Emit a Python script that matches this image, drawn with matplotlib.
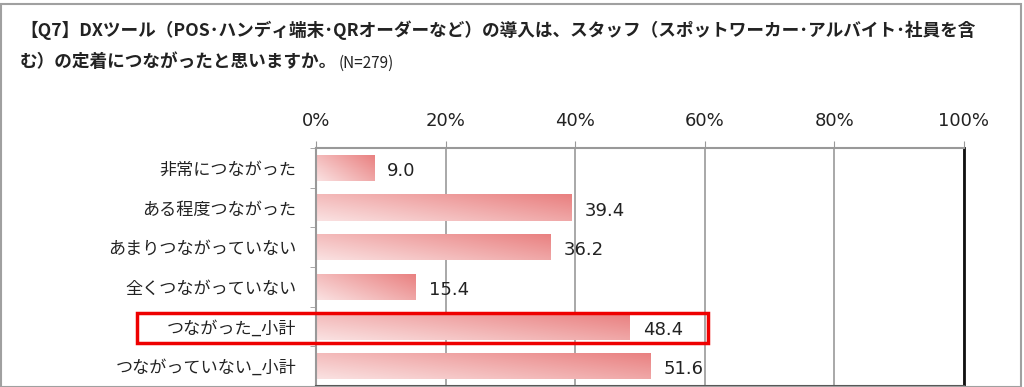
import matplotlib
matplotlib.use("Agg")
import matplotlib.pyplot as plt
import numpy as np
from matplotlib.patches import Rectangle

plt.rcParams["font.family"] = ["Noto Sans CJK JP", "DejaVu Sans"]

TITLE_1 = "【Q7】DXツール（POS･ハンディ端末･QRオーダーなど）の導入は、スタッフ（スポットワーカー･アルバイト･社員を含"
TITLE_2 = "む）の定着につながったと思いますか。"
TITLE_N = "(N=279)"

categories = [
    "非常につながった",
    "ある程度つながった",
    "あまりつながっていない",
    "全くつながっていない",
    "つながった_小計",
    "つながっていない_小計",
]
values = [9.0, 39.4, 36.2, 15.4, 48.4, 51.6]
ticks = [0, 20, 40, 60, 80, 100]
tick_labels = ["0%", "20%", "40%", "60%", "80%", "100%"]

W, H = 1024, 387
fig = plt.figure(figsize=(W / 100, H / 100), dpi=100)

# outer frame
fig.patches.append(Rectangle((0.5 / W, 0.5 / H), 1 - 4 / W, 1 - 4 / H,
                             transform=fig.transFigure, fill=False,
                             edgecolor="#a0a0a0", linewidth=1.5))

t1 = fig.text(20 / W, 1 - 30 / H, TITLE_1, fontsize=12.7, fontweight="bold",
              va="center", ha="left", color="#222222")
t2 = fig.text(20 / W, 1 - 62 / H, TITLE_2, fontsize=12.7, fontweight="bold",
              va="center", ha="left", color="#222222")
fig.canvas.draw()
bb = t2.get_window_extent()
fig.text(bb.x1 / W + 1 / W, 1 - 63 / H, TITLE_N, fontsize=11,
         color="#222222", va="center", ha="left")

ax = fig.add_axes([316 / W, 1 / H, 648 / W, 238 / H])
n = len(categories)
y = np.arange(n)
bar_h = 0.66

# gradient: darker top-right, lighter bottom-left
gx, gy = np.meshgrid(np.linspace(0, 1, 64), np.linspace(0, 1, 16))
g = np.clip(0.6 * gx + 0.4 * (1 - gy), 0, 1)
dark = np.array([233, 128, 128]) / 255
light = np.array([250, 225, 225]) / 255
img = light + (dark - light) * g[..., None]

bars = ax.barh(y, values, height=bar_h, color="none", edgecolor="none")
for b, v in zip(bars, values):
    x0, y0 = b.get_x(), b.get_y()
    w, h = b.get_width(), b.get_height()
    im = ax.imshow(img, extent=(x0, x0 + w, y0 + h, y0), origin="upper",
                   aspect="auto", interpolation="bilinear", zorder=2)
    im.set_clip_path(b)
    ax.text(v + 2.0, b.get_y() + h / 2 + 0.08, f"{v:.1f}", fontsize=13,
            family="DejaVu Sans", va="center", ha="left", color="#222222",
            zorder=4)

ax.set_xlim(0, 100)
ax.set_ylim(n - 0.5, -0.5)
ax.xaxis.tick_top()
ax.set_xticks(ticks)
ax.set_xticklabels(tick_labels, fontsize=13, family="DejaVu Sans",
                   color="#222222")
ax.tick_params(axis="x", length=5, color="#999999", pad=8)
ax.set_yticks(y)
ax.set_yticklabels(categories, fontsize=12.3, color="#222222")
ax.tick_params(axis="y", length=0, pad=14)
ax.set_yticks(np.arange(n + 1) - 0.5, minor=True)
ax.tick_params(axis="y", which="minor", length=4, color="#999999")
ax.grid(axis="x", color="#999999", linewidth=1.2, zorder=0)
ax.set_axisbelow(True)
for s in ("left", "top"):
    ax.spines[s].set_color("#999999")
    ax.spines[s].set_linewidth(1.5)
ax.spines["right"].set_color("#111111")
ax.spines["right"].set_linewidth(2)
ax.spines["bottom"].set_color("#555555")
ax.spines["bottom"].set_linewidth(1.5)

# highlight box around the subtotal row
fig.patches.append(Rectangle((137 / W, 1 - 343 / H), 571 / W, 30 / H,
                             transform=fig.transFigure, fill=False,
                             edgecolor="#ee0000", linewidth=2.5, zorder=5))

fig.savefig("out.png", dpi=100)
